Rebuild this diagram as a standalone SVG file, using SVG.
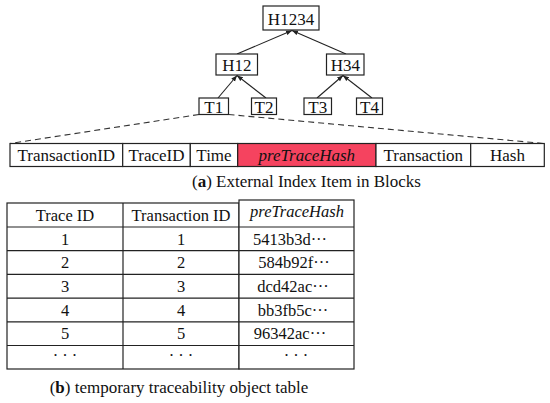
<svg xmlns="http://www.w3.org/2000/svg" width="550" height="403" viewBox="0 0 550 403">
<style>
.b{fill:#fff;stroke:#222;stroke-width:1.2}
.t{font-family:"Liberation Serif","Times New Roman",serif;font-size:17px;fill:#111;text-anchor:middle}
.s{font-size:16.5px}
.i{font-style:italic}
.c{stroke:#222;stroke-width:1.1;fill:none}
.d{stroke:#333;stroke-width:1.1;fill:none;stroke-dasharray:6,4}
.g{stroke:#222;stroke-width:1.2}
</style>
<defs>
<marker id="ah" viewBox="0 0 10 10" refX="10" refY="5" markerWidth="6" markerHeight="6" orient="auto" markerUnits="userSpaceOnUse">
<path d="M0,1 L10,5 L0,9 Z" fill="#222"/>
</marker>
</defs>
<g id="connectors">
<line class="c" x1="237" y1="54" x2="292" y2="30.5" marker-end="url(#ah)"/>
<line class="c" x1="346" y1="54" x2="292" y2="30.5" marker-end="url(#ah)"/>
<line class="c" x1="218" y1="98" x2="237" y2="75.5" marker-end="url(#ah)"/>
<line class="c" x1="266" y1="98" x2="237" y2="75.5" marker-end="url(#ah)"/>
<line class="c" x1="317" y1="98" x2="343" y2="75.5" marker-end="url(#ah)"/>
<line class="c" x1="372" y1="98" x2="343" y2="75.5" marker-end="url(#ah)"/>
<line class="d" x1="199" y1="114.5" x2="10" y2="143.5"/>
<line class="d" x1="228.5" y1="114.5" x2="544" y2="143.5"/>
</g>
<g id="H1234"><rect class="b" x="263" y="6" width="56" height="24"/><text class="t" x="291" y="25">H1234</text></g>
<g id="H12"><rect class="b" x="216" y="54" width="41.5" height="21"/><text class="t" x="236.8" y="70.5">H12</text></g>
<g id="H34"><rect class="b" x="326.5" y="54" width="37.5" height="21"/><text class="t" x="345.3" y="70.5">H34</text></g>
<g id="T1"><rect class="b" x="199" y="98" width="29.5" height="16.5"/><text class="t" x="213.8" y="113">T1</text></g>
<g id="T2"><rect class="b" x="251.5" y="98" width="25" height="16.5"/><text class="t" x="264" y="113">T2</text></g>
<g id="T3"><rect class="b" x="304" y="98" width="27.5" height="16.5"/><text class="t" x="317.8" y="113">T3</text></g>
<g id="T4"><rect class="b" x="356.5" y="98" width="26" height="16.5"/><text class="t" x="369.5" y="113">T4</text></g>
<g id="index-item">
<rect class="b" x="10" y="143.5" width="112.7" height="23"/><text class="t" x="66.3" y="160.5">TransactionID</text>
<rect class="b" x="122.7" y="143.5" width="67.6" height="23"/><text class="t" x="156.5" y="160.5">TraceID</text>
<rect class="b" x="190.3" y="143.5" width="47.4" height="23"/><text class="t" x="214" y="160.5">Time</text>
<rect x="237.7" y="143.5" width="138.3" height="23" fill="#f5435f" stroke="#222" stroke-width="1.2"/><text class="t i" x="306.8" y="160.5">preTraceHash</text>
<rect class="b" x="376" y="143.5" width="94.7" height="23"/><text class="t" x="423.3" y="160.5">Transaction</text>
<rect class="b" x="470.7" y="143.5" width="73.6" height="23"/><text class="t" x="507.5" y="160.5">Hash</text>
</g>
<text class="t" x="306.5" y="187">(<tspan font-weight="bold">a</tspan>) External Index Item in Blocks</text>
<g id="table">
<rect x="7" y="203" width="232" height="166" fill="#fff" class="g"/>
<rect x="239" y="200" width="115" height="169" fill="#fff" class="g"/>
<line class="g" x1="123" y1="203" x2="123" y2="369"/>
<line class="g" x1="7" y1="227" x2="354" y2="227"/>
<line class="g" x1="7" y1="250.7" x2="354" y2="250.7"/>
<line class="g" x1="7" y1="274.4" x2="354" y2="274.4"/>
<line class="g" x1="7" y1="298.1" x2="354" y2="298.1"/>
<line class="g" x1="7" y1="321.8" x2="354" y2="321.8"/>
<line class="g" x1="7" y1="345.5" x2="354" y2="345.5"/>
<g class="t s">
<text x="65" y="220.5">Trace ID</text>
<text x="181" y="220.5">Transaction ID</text>
<text class="i" x="297" y="217">preTraceHash</text>
<text x="65" y="244.5">1</text><text x="181" y="244.5">1</text><text x="290" y="244.5">5413b3d···</text>
<text x="65" y="268.2">2</text><text x="181" y="268.2">2</text><text x="294" y="268.2">584b92f···</text>
<text x="65" y="291.9">3</text><text x="181" y="291.9">3</text><text x="293" y="291.9">dcd42ac···</text>
<text x="65" y="315.6">4</text><text x="181" y="315.6">4</text><text x="293" y="315.6">bb3fb5c···</text>
<text x="65" y="339.3">5</text><text x="181" y="339.3">5</text><text x="290" y="339.3">96342ac···</text>
<text x="65" y="361">· · ·</text><text x="181" y="361">· · ·</text><text x="296" y="361">· · ·</text>
</g>
</g>
<text class="t" x="179" y="393">(<tspan font-weight="bold">b</tspan>) temporary traceability object table</text>
</svg>
